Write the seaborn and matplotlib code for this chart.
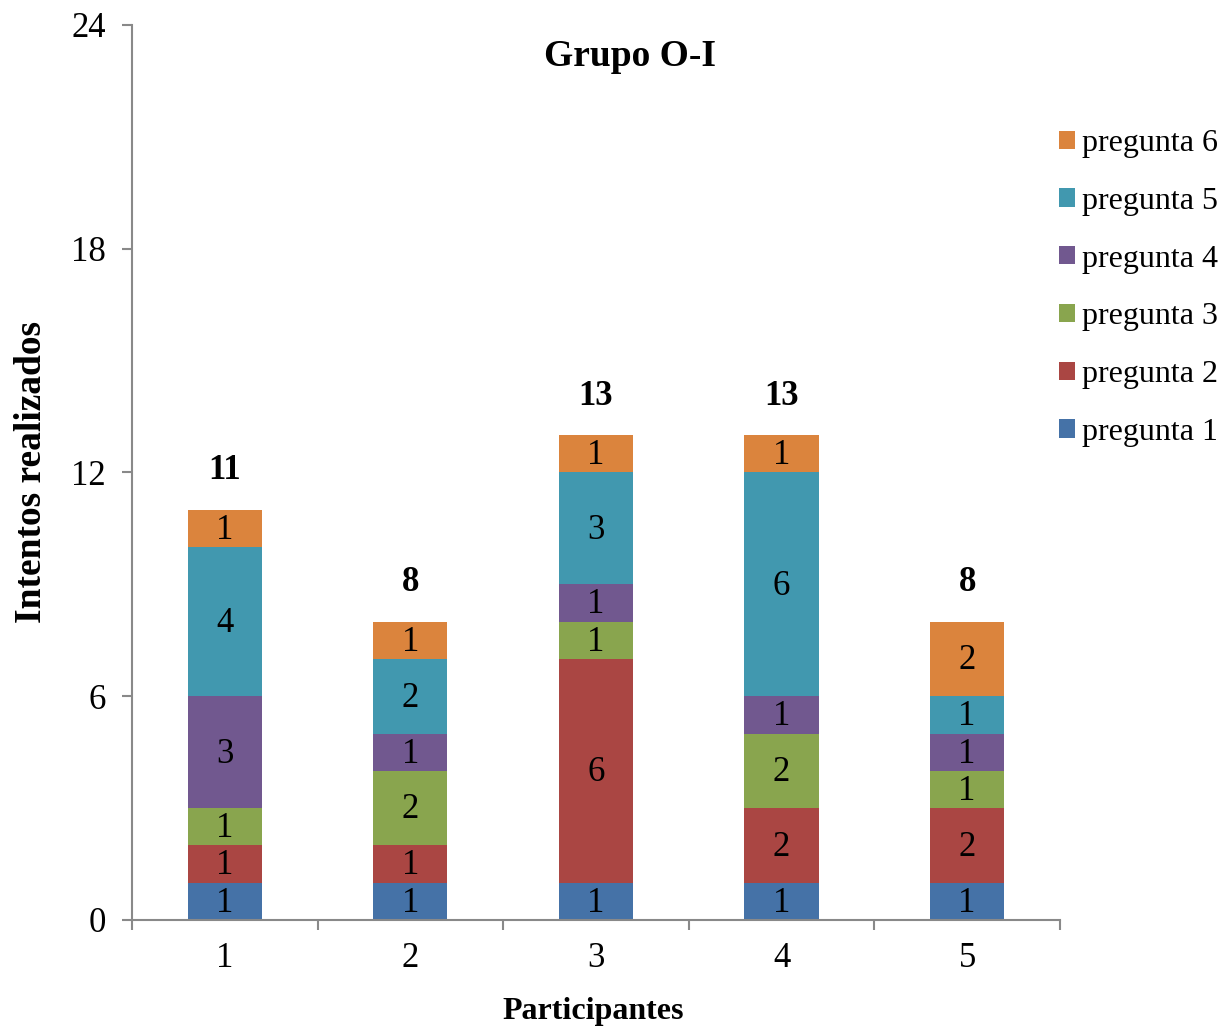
import numpy as np
import pandas as pd
import matplotlib
matplotlib.use("Agg")
import matplotlib.pyplot as plt
import seaborn as sns

# Attempts per participant for each question
participantes = ["1", "2", "3", "4", "5"]
pregunta_1 = [1, 1, 1, 1, 1]
pregunta_2 = [1, 1, 6, 2, 2]
pregunta_3 = [1, 2, 1, 2, 1]
pregunta_4 = [3, 1, 1, 1, 1]
pregunta_5 = [4, 2, 3, 6, 1]
pregunta_6 = [1, 1, 1, 1, 2]

series_names = ["pregunta 1", "pregunta 2", "pregunta 3",
                "pregunta 4", "pregunta 5", "pregunta 6"]
series_values = [pregunta_1, pregunta_2, pregunta_3,
                 pregunta_4, pregunta_5, pregunta_6]
colors = ["#4572A7", "#AA4643", "#89A54E", "#71588F", "#4198AF", "#DB843D"]

sns.set_theme(style="white")
plt.rcParams["font.family"] = ["Liberation Serif", "DejaVu Serif"]
plt.rcParams["text.color"] = "black"
plt.rcParams["axes.labelcolor"] = "black"
plt.rcParams["xtick.color"] = "black"
plt.rcParams["ytick.color"] = "black"

vals = np.array(series_values, dtype=float)
cum = np.cumsum(vals, axis=0)
totals = cum[-1]

df = pd.DataFrame({"Participantes": participantes})
for name, c in zip(series_names, cum):
    df[name] = c

fig = plt.figure(figsize=(12.29, 10.28), dpi=100)
ax = fig.add_axes([0.1074, 0.1051, 0.755, 0.8706])

# Stacked bars: draw cumulative heights from the top series downwards
for i in range(len(series_names) - 1, -1, -1):
    sns.barplot(data=df, x="Participantes", y=series_names[i], color=colors[i],
                width=0.4, saturation=1, linewidth=0, ax=ax,
                label=series_names[i])

# Segment value labels
for i in range(len(series_names)):
    bottoms = cum[i] - vals[i]
    for j, v in enumerate(vals[i]):
        ax.text(j, bottoms[j] + v / 2 - 0.05, f"{int(v)}", ha="center",
                va="center", fontsize=25, color="black")

# Totals above each bar
for j, t in enumerate(totals):
    ax.text(j, t + 1.05, f"{int(t)}", ha="center", va="center",
            fontsize=25, fontweight="bold", color="black")

ax.set_ylim(0, 24)
ax.set_xlim(-0.5, len(participantes) - 0.5)
ax.set_yticks([0, 6, 12, 18, 24])
ax.set_yticklabels(["0", "6", "12", "18", "24"], fontsize=25)
ax.set_xticks(range(len(participantes)))
ax.set_xticklabels(participantes, fontsize=25)
ax.set_xticks(np.arange(-0.5, len(participantes), 1.0), minor=True)

axis_gray = "#898989"
for s in ["top", "right"]:
    ax.spines[s].set_visible(False)
for s in ["left", "bottom"]:
    ax.spines[s].set_color(axis_gray)
    ax.spines[s].set_linewidth(1.5)

ax.tick_params(axis="y", which="major", direction="out", length=7, width=1.5,
               color=axis_gray, labelcolor="black", pad=12, left=True)
ax.tick_params(axis="x", which="major", length=0, pad=16, labelcolor="black")
ax.tick_params(axis="x", which="minor", direction="out", length=7, width=1.5,
               color=axis_gray, bottom=True)

ax.set_xlabel("")
ax.set_ylabel("Intentos realizados", fontsize=27, fontweight="bold", labelpad=16)
fig.text(593 / 1229, 1 - 1012 / 1028, "Participantes", ha="center", va="center",
         fontsize=23, fontweight="bold")
fig.text(630 / 1229, 1 - 57 / 1028, "Grupo O-I", ha="center", va="center",
         fontsize=27, fontweight="bold")

handles, labels = ax.get_legend_handles_labels()
order = {n: k for k, n in enumerate(series_names)}
pairs = sorted(zip(handles, labels), key=lambda p: -order[p[1]])
leg = ax.legend([p[0] for p in pairs], [p[1] for p in pairs],
                loc="upper left", bbox_to_anchor=(1059 / 1229, 1 - 129 / 1028),
                bbox_transform=fig.transFigure, frameon=False, fontsize=23,
                handlelength=0.5, handleheight=0.5, handletextpad=0.22,
                labelspacing=0.9, borderaxespad=0, borderpad=0)

fig.savefig("out.png", dpi=100)
